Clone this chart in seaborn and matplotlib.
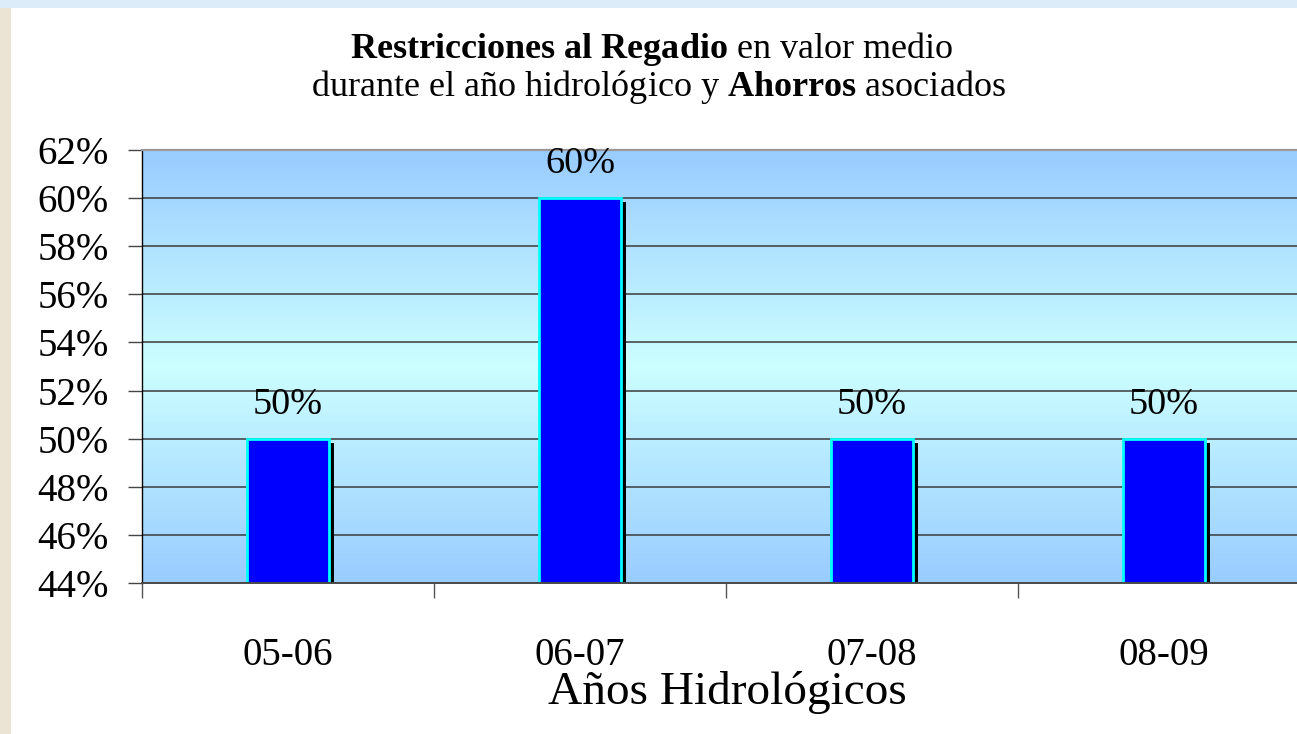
import numpy as np
import pandas as pd
import matplotlib
matplotlib.use('Agg')
import matplotlib.pyplot as plt
import matplotlib.patheffects as pe
from matplotlib.colors import LinearSegmentedColormap
from matplotlib.patches import Rectangle
import seaborn as sns

# data
years = ['05-06', '06-07', '07-08', '08-09']
restriccion = [50, 60, 50, 50]
yticks = [44, 46, 48, 50, 52, 54, 56, 58, 60, 62]
ytick_labels = ['44%', '46%', '48%', '50%', '52%', '54%', '56%', '58%', '60%', '62%']
bar_labels = ['50%', '60%', '50%', '50%']

df = pd.DataFrame({'Year': years, 'Restriccion': restriccion})

sns.set_style('white')
plt.rcParams['font.family'] = ['Liberation Serif', 'DejaVu Serif']
plt.rcParams['mathtext.fontset'] = 'custom'
plt.rcParams['mathtext.rm'] = 'Liberation Serif'
plt.rcParams['mathtext.bf'] = 'Liberation Serif:bold'
plt.rcParams['text.color'] = 'black'
plt.rcParams['axes.labelcolor'] = 'black'
plt.rcParams['xtick.labelcolor'] = 'black'
plt.rcParams['ytick.labelcolor'] = 'black'

W, H = 1297, 734
fig = plt.figure(figsize=(W / 100, H / 100), dpi=100)
fig.patch.set_facecolor('white')

# backdrop strips of the slide behind the white panel
fig.patches.append(Rectangle((0, 0), 11 / W, 1, transform=fig.transFigure,
                             facecolor='#ebe3d3', edgecolor='none', zorder=-5))
fig.patches.append(Rectangle((0, 1 - 8 / H), 1, 8 / H, transform=fig.transFigure,
                             facecolor='#dcecf8', edgecolor='none', zorder=-5))

ax = fig.add_axes([142 / W, 1 - 583 / H, (1310 - 142) / W, (583 - 150) / H])

ax = sns.barplot(data=df, x='Year', y='Restriccion', color='#0000ff',
                 saturation=1, width=0.28, edgecolor='#00ffff', linewidth=2.0, ax=ax)
for p in ax.patches:
    p.set_path_effects([pe.SimplePatchShadow(offset=(3.5, -3), shadow_rgbFace='black', alpha=1),
                        pe.Normal()])

# gradient fill of the plot area
cmap = LinearSegmentedColormap.from_list('bg', ['#99ccff', '#ccffff', '#99ccff'])
grad = np.linspace(0, 1, 256).reshape(-1, 1)
ax.imshow(grad, cmap=cmap, extent=[0, 1, 0, 1], transform=ax.transAxes,
          aspect='auto', zorder=0)

ax.set_xlim(-0.5, 3.5)
ax.set_ylim(44, 62)
ax.set_yticks(yticks)
ax.set_yticklabels(ytick_labels)
ax.set_axisbelow(True)
ax.grid(axis='y', color='#3a3a3a', linewidth=1.1, zorder=0.5)
ax.grid(axis='x', visible=False)

ax.bar_label(ax.containers[0], labels=bar_labels, padding=12, fontsize=27.5)

ax.tick_params(axis='y', left=True, direction='out', length=10, width=1,
               color='#444444', pad=14, labelsize=28)
ax.tick_params(axis='x', which='major', bottom=False, length=0, pad=39, labelsize=28)
ax.set_xticks([-0.5, 0.5, 1.5, 2.5, 3.5], minor=True)
ax.tick_params(axis='x', which='minor', bottom=True, direction='out', length=11,
               width=1, color='#555555')

ax.spines['left'].set_color('black')
ax.spines['left'].set_linewidth(1)
ax.spines['bottom'].set_color('#4a4a4a')
ax.spines['bottom'].set_linewidth(1.4)
ax.spines['top'].set_color('#999999')
ax.spines['top'].set_linewidth(1.6)
ax.spines['right'].set_visible(False)

ax.set_ylabel('')
ax.set_xlabel('Años Hidrológicos', fontsize=34)
ax.xaxis.label.set_va('center')
ax.xaxis.set_label_coords((727 - 142) / 1168, (583 - 692) / 433)

fig.text(652 / W, 1 - 58 / H,
         r'$\mathbf{Restricciones}$ $\mathbf{al}$ $\mathbf{Regadio}$ en valor medio',
         ha='center', va='baseline', fontsize=26)
fig.text(658 / W, 1 - 96 / H,
         r'durante el año hidrológico y $\mathbf{Ahorros}$ asociados',
         ha='center', va='baseline', fontsize=26)

fig.savefig('out.png', dpi=100)
